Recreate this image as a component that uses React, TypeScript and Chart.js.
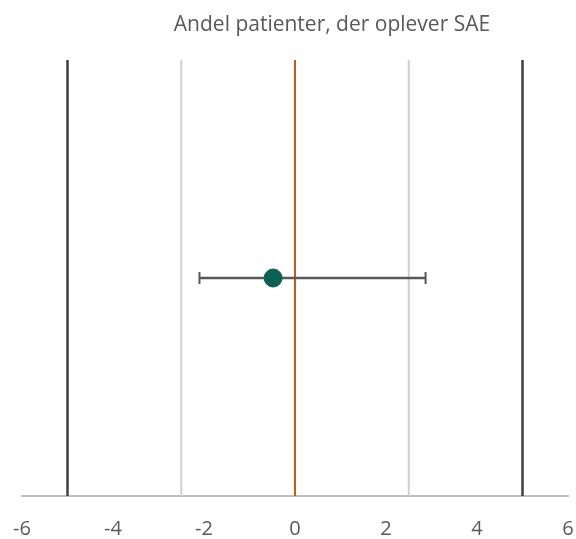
import React, { useEffect, useRef } from "react";
import { Chart, registerables } from "chart.js";

Chart.register(...registerables);

const titleText = "Andel patienter, der oplever SAE";
const xTicks = [-6, -4, -2, 0, 2, 4, 6];
const outerLines = [-5, 5];
const innerLines = [-2.5, 2.5];
const zeroLine = [0];
const estimate = [-0.48];
const ciLow = [-2.1];
const ciHigh = [2.87];

const Y_MID = 1;

const vline = (x: number, color: string, width: number) => ({
  type: "line" as const,
  data: [
    { x, y: 0 },
    { x, y: 2 },
  ],
  borderColor: color,
  borderWidth: width,
  pointRadius: 0,
  showLine: true,
  fill: false,
  order: 3,
});

const capPlugin = {
  id: "ciCaps",
  afterDatasetsDraw(chart: any) {
    const { ctx, scales } = chart;
    const yPix = scales.y.getPixelForValue(Y_MID);
    ctx.save();
    ctx.strokeStyle = "#595959";
    ctx.lineWidth = 2;
    [...ciLow, ...ciHigh].forEach((v) => {
      const xp = scales.x.getPixelForValue(v);
      ctx.beginPath();
      ctx.moveTo(xp, yPix - 6);
      ctx.lineTo(xp, yPix + 6);
      ctx.stroke();
    });
    ctx.restore();
  },
};

const titlePlugin = {
  id: "offsetTitle",
  afterDraw(chart: any) {
    const { ctx } = chart;
    ctx.save();
    ctx.fillStyle = "#595959";
    ctx.font = "21px 'Open Sans'";
    ctx.textAlign = "center";
    ctx.textBaseline = "alphabetic";
    ctx.fillText(titleText, 332, 31);
    ctx.restore();
  },
};

export default function App() {
  const ref = useRef<HTMLCanvasElement>(null);
  useEffect(() => {
    document.body.style.margin = "0";
    const datasets: any[] = [
      ...outerLines.map((x) => vline(x, "#404040", 2.5)),
      ...innerLines.map((x) => vline(x, "#d0d0d0", 2)),
      ...zeroLine.map((x) => vline(x, "#c55a11", 2)),
      {
        type: "line",
        data: [
          { x: ciLow[0], y: Y_MID },
          { x: ciHigh[0], y: Y_MID },
        ],
        borderColor: "#595959",
        borderWidth: 2.5,
        pointRadius: 0,
        showLine: true,
        order: 2,
      },
      {
        type: "scatter",
        data: estimate.map((x) => ({ x, y: Y_MID })),
        backgroundColor: "#0b6152",
        borderColor: "#0b6152",
        pointRadius: 9,
        order: 1,
      },
    ];
    const chart = new Chart(ref.current!, {
      type: "scatter",
      data: { datasets },
      options: {
        animation: false,
        responsive: false,
        layout: {
          autoPadding: false,
          padding: { left: 22, right: 8, top: 60, bottom: 0 },
        },
        plugins: {
          legend: { display: false },
          tooltip: { enabled: false },
          title: { display: false },
        },
        scales: {
          x: {
            type: "linear",
            min: -6,
            max: 6,
            afterBuildTicks: (s: any) => {
              s.ticks = xTicks.map((v) => ({ value: v }));
            },
            afterFit: (s: any) => {
              s.paddingLeft = 0;
              s.paddingRight = 0;
              s.height = 43;
            },
            grid: { display: false, drawTicks: false },
            border: { display: true, color: "#bfbfbf", width: 2 },
            ticks: {
              color: "#595959",
              padding: 22,
              font: { family: "Open Sans", size: 20, lineHeight: 1.1 },
            },
          },
          y: {
            type: "linear",
            min: 0,
            max: 2,
            display: false,
          },
        },
      },
      plugins: [capPlugin, titlePlugin],
    });
    return () => chart.destroy();
  }, []);
  return (
    <div style={{ width: 576, height: 539 }}>
      <canvas ref={ref} width={576} height={539} />
    </div>
  );
}
